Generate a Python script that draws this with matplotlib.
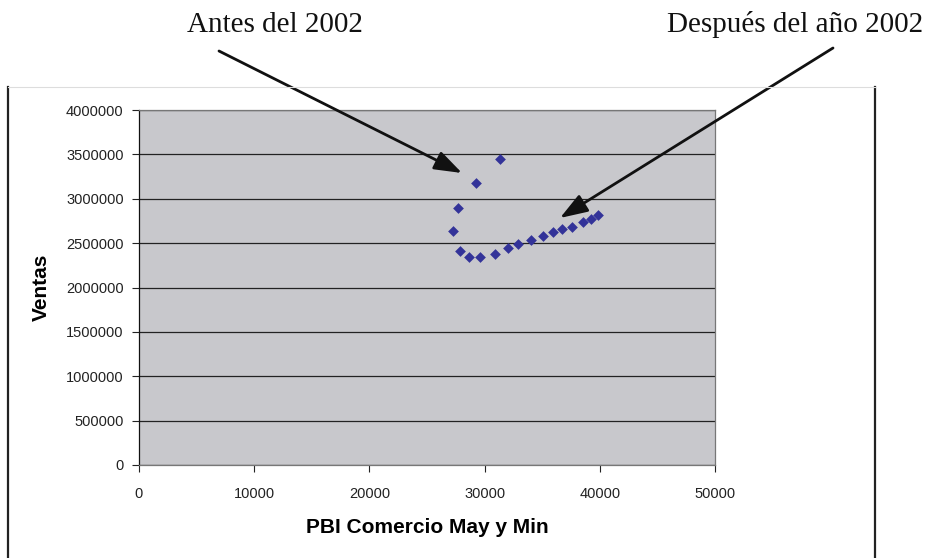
import matplotlib
matplotlib.use("Agg")
import matplotlib.pyplot as plt
from matplotlib.lines import Line2D
from matplotlib.patches import FancyArrowPatch

# datos
pbi = [31340, 29230, 27720, 27290, 27840, 28620, 29600, 30880, 32010, 32870,
       34000, 35040, 35910, 36690, 37560, 38570, 39210, 39870]
ventas = [3448000, 3174000, 2892000, 2637000, 2411000, 2340000, 2340000, 2374000,
          2441000, 2487000, 2539000, 2584000, 2621000, 2655000, 2682000, 2738000,
          2768000, 2813000]

xticks = [0, 10000, 20000, 30000, 40000, 50000]
yticks = [0, 500000, 1000000, 1500000, 2000000, 2500000, 3000000, 3500000, 4000000]

W, H = 929, 558
fig = plt.figure(figsize=(W / 100, H / 100), dpi=100)
ax = fig.add_axes([139 / W, 1 - 465 / H, (715 - 139) / W, (465 - 110) / H])

ax.set_facecolor("#c8c8cc")
ax.set_xlim(0, 50000)
ax.set_ylim(0, 4000000)
ax.set_xticks(xticks)
ax.set_yticks(yticks)
ax.set_xticklabels([str(v) for v in xticks])
ax.set_yticklabels([str(v) for v in yticks])
ax.tick_params(labelsize=10.5, length=5, width=0.8, colors="#222222")
ax.tick_params(axis="y", pad=6)
ax.tick_params(axis="x", pad=11)
for lab in ax.get_xticklabels() + ax.get_yticklabels():
    lab.set_family("Liberation Sans")
ax.yaxis.grid(True, color="#222222", linewidth=0.9)
ax.set_axisbelow(True)
for s in ax.spines.values():
    s.set_color("#777777")
    s.set_linewidth(0.9)
ax.spines["left"].set_color("#111111")

ax.scatter(pbi, ventas, marker="D", s=30, color="#333399", zorder=3, linewidths=0)

ax.set_xlabel("PBI Comercio May y Min", fontsize=15, fontweight="bold",
              family="Liberation Sans", labelpad=12)
ax.set_ylabel("Ventas", fontsize=15, fontweight="bold",
              family="Liberation Sans", labelpad=11)

# marco del area del grafico
fig.add_artist(Line2D([8 / W, 8 / W], [0, 1 - 87 / H], color="#222222", lw=1.6))
fig.add_artist(Line2D([875 / W, 875 / W], [0, 1 - 87 / H], color="#222222", lw=1.6))
fig.add_artist(Line2D([8 / W, 875 / W], [1 - 87 / H, 1 - 87 / H], color="#dddddd", lw=0.8))

# anotaciones
fig.text(275 / W, 1 - 25 / H, "Antes del 2002", ha="center", va="center",
         fontsize=21, family="Liberation Serif", color="#111111")
fig.text(795 / W, 1 - 25 / H, "Después del año 2002", ha="center", va="center",
         fontsize=21, family="Liberation Serif", color="#111111")
arrow = dict(arrowstyle="-|>,head_length=1.2,head_width=0.42", mutation_scale=14,
             color="#111111", lw=2, shrinkA=0, shrinkB=0, transform=fig.transFigure)
fig.add_artist(FancyArrowPatch((219 / W, 1 - 51 / H), (462 / W, 1 - 173 / H), **arrow))
fig.add_artist(FancyArrowPatch((833 / W, 1 - 48 / H), (560 / W, 1 - 218 / H), **arrow))

fig.savefig("out.png", dpi=100)
